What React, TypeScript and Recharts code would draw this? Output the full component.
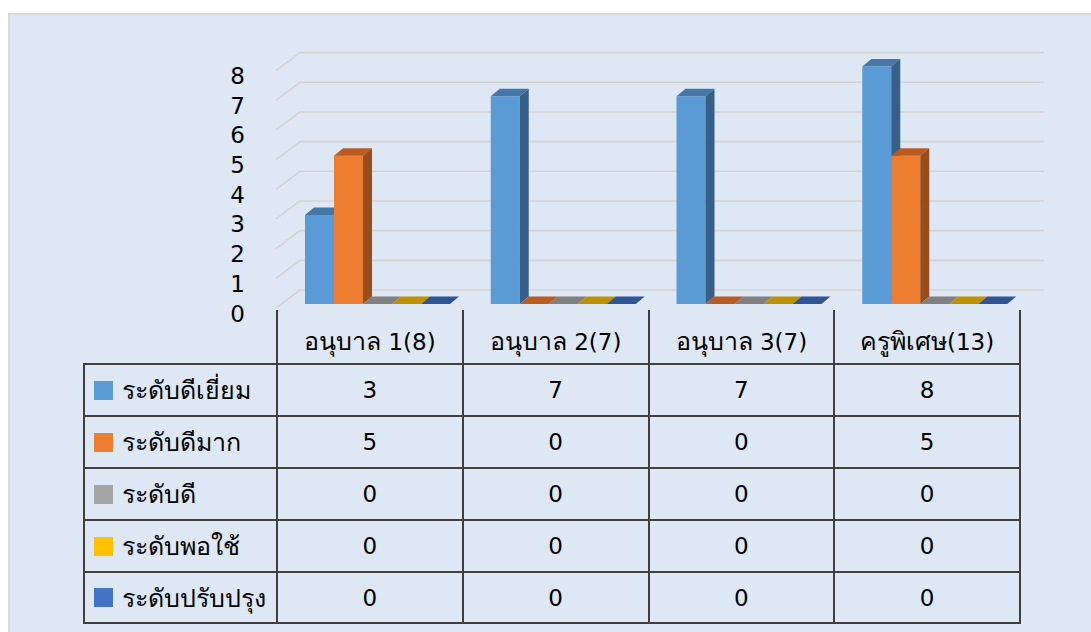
import { BarChart, Bar, XAxis, YAxis, CartesianGrid } from 'recharts';

const categories = ['อนุบาล 1(8)', 'อนุบาล 2(7)', 'อนุบาล 3(7)', 'ครูพิเศษ(13)'];
const seriesNames = ['ระดับดีเยี่ยม', 'ระดับดีมาก', 'ระดับดี', 'ระดับพอใช้', 'ระดับปรับปรุง'];
const excellent = [3, 7, 7, 8];
const veryGood = [5, 0, 0, 5];
const good = [0, 0, 0, 0];
const fair = [0, 0, 0, 0];
const improve = [0, 0, 0, 0];
const yTicks = [0, 1, 2, 3, 4, 5, 6, 7, 8];

const seriesValues = [excellent, veryGood, good, fair, improve];
// front / top / side shades for the fake 3D boxes
const frontColors = ['#5b9bd5', '#ed7d31', '#a5a5a5', '#ffc000', '#4472c4'];
const topColors = ['#4677a8', '#b85c22', '#808080', '#bf9000', '#2f5597'];
const sideColors = ['#376088', '#974e1c', '#6e6e6e', '#9e7700', '#27487f'];

const data = categories.map((name, i) => {
  const row: any = { name };
  seriesValues.forEach((vals, s) => {
    row['s' + s] = vals[i];
  });
  return row;
});

const FONT = "Tahoma, 'DejaVu Sans', 'Noto Sans', sans-serif";
const DX = 9;
const DY = 7.5;

// the Thai fallback face runs small next to the digits, so bump Thai runs up a bit
function Mixed({ text }: { text: string }) {
  const parts = text.split(/([\u0E00-\u0E7F]+)/);
  return (
    <>
      {parts.map((p, i) =>
        /[\u0E00-\u0E7F]/.test(p) ? (
          <span key={i} style={{ fontSize: 25 }}>
            {p}
          </span>
        ) : (
          <span key={i}>{p}</span>
        )
      )}
    </>
  );
}

function Box(props: any) {
  const { x, y, width, height, s } = props;
  if (x == null || y == null) return null;
  const w = width;
  const h = Math.max(0, height);
  return (
    <g>
      {h > 0 && <rect x={x} y={y} width={w} height={h} fill={frontColors[s]} />}
      <polygon
        points={`${x},${y} ${x + DX},${y - DY} ${x + w + DX},${y - DY} ${x + w},${y}`}
        fill={topColors[s]}
      />
      {h > 0 && (
        <polygon
          points={`${x + w},${y} ${x + w + DX},${y - DY} ${x + w + DX},${y + h - DY} ${x + w},${y + h}`}
          fill={sideColors[s]}
        />
      )}
    </g>
  );
}

function BackGridLine(props: any) {
  const { x1, x2, y1 } = props;
  if (y1 == null) return null;
  return (
    <g>
      <line x1={x1 - 8} y1={y1 + 4} x2={x1 + 16} y2={y1 - 14} stroke="#d3d3d3" strokeWidth={1.6} />
      <line x1={x1 + 16} y1={y1 - 14} x2={x2 + 17} y2={y1 - 14} stroke="#d3d3d3" strokeWidth={1.6} />
    </g>
  );
}

function YTick(props: any) {
  const { y, payload } = props;
  return (
    <text x={245} y={y + 9.5} textAnchor="end" dominantBaseline="central" fontFamily={FONT} fontSize={23} fill="#000">
      {payload.value}
    </text>
  );
}

const cellBorder = '2px solid #3f3f3f';

export default function App() {
  return (
    <div style={{ position: 'absolute', left: 0, top: 0, width: 1091, height: 632, overflow: 'hidden', background: '#fff' }}>
      <div
        style={{
          position: 'absolute',
          left: 8,
          top: 13,
          width: 1083,
          height: 619,
          background: '#dde8f4',
          borderTop: '2px solid #d9d9d9',
          borderLeft: '2px solid #d9d9d9',
        }}
      />
      <div style={{ position: 'absolute', left: 0, top: 0 }}>
        <BarChart
          width={1091}
          height={632}
          data={data}
          margin={{ top: 66.6, right: 64, bottom: 328, left: 244 }}
          barCategoryGap={21}
          barGap={0}
        >
          <CartesianGrid vertical={false} horizontal={(p: any) => <BackGridLine key={p.key} {...p} />} />
          <XAxis dataKey="name" hide />
          <YAxis width={40} domain={[0, 8]} ticks={yTicks} axisLine={false} tickLine={false} tick={<YTick />} interval={0} />
          {seriesNames.map((n, s) => (
            <Bar
              key={n}
              dataKey={'s' + s}
              name={n}
              fill={frontColors[s]}
              isAnimationActive={false}
              shape={(p: any) => <Box {...p} s={s} />}
            />
          ))}
        </BarChart>
      </div>
      <table
        style={{
          position: 'absolute',
          left: 83,
          top: 310,
          width: 936,
          borderCollapse: 'collapse',
          tableLayout: 'fixed',
          fontFamily: FONT,
          fontSize: 23,
          color: '#000',
        }}
      >
        <colgroup>
          <col style={{ width: 193 }} />
          {categories.map((c) => (
            <col key={c} style={{ width: 185.75 }} />
          ))}
        </colgroup>
        <thead>
          <tr style={{ height: 54 }}>
            <th style={{ border: 'none', padding: 0 }} />
            {categories.map((c) => (
              <th
                key={c}
                style={{
                  borderLeft: cellBorder,
                  borderRight: cellBorder,
                  borderBottom: cellBorder,
                  fontWeight: 400,
                  verticalAlign: 'bottom',
                  padding: '0 0 2px 0',
                  whiteSpace: 'nowrap',
                }}
              >
                <Mixed text={c} />
              </th>
            ))}
          </tr>
        </thead>
        <tbody>
          {seriesNames.map((n, s) => (
            <tr key={n} style={{ height: s === 4 ? 51 : 52 }}>
              <td style={{ border: cellBorder, padding: '0 0 0 9px', whiteSpace: 'nowrap' }}>
                <span
                  style={{
                    display: 'inline-block',
                    width: 19,
                    height: 19,
                    background: frontColors[s],
                    marginRight: 9,
                    verticalAlign: 'middle',
                  }}
                />
                <span style={{ verticalAlign: 'middle' }}>
                  <Mixed text={n} />
                </span>
              </td>
              {seriesValues[s].map((v, i) => (
                <td key={i} style={{ border: cellBorder, textAlign: 'center', padding: 0 }}>
                  {v}
                </td>
              ))}
            </tr>
          ))}
        </tbody>
      </table>
    </div>
  );
}
